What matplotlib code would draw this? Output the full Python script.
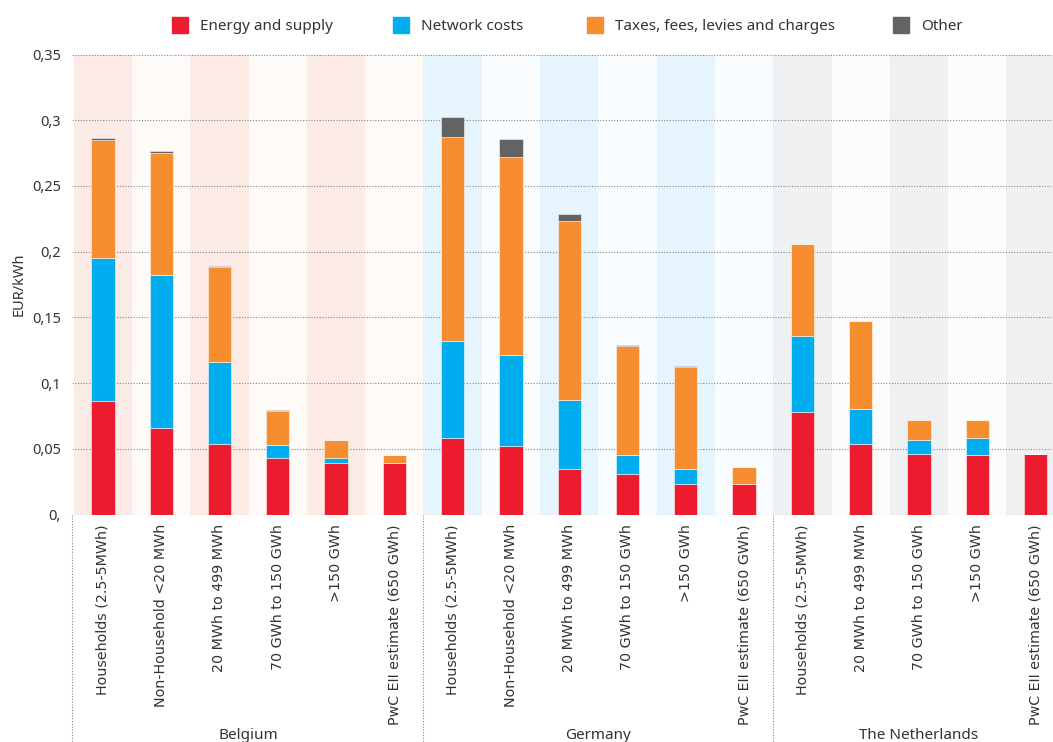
import matplotlib
matplotlib.use("Agg")
import matplotlib.pyplot as plt
from matplotlib.patches import Rectangle
from matplotlib.lines import Line2D
import numpy as np

# ---------------- data ----------------
countries = ["Belgium", "Germany", "The Netherlands"]
categories = [
    "Households (2.5-5MWh)", "Non-Household <20 MWh", "20 MWh to 499 MWh",
    "70 GWh to 150 GWh", ">150 GWh", "PwC EII estimate (650 GWh)",
    "Households (2.5-5MWh)", "Non-Household <20 MWh", "20 MWh to 499 MWh",
    "70 GWh to 150 GWh", ">150 GWh", "PwC EII estimate (650 GWh)",
    "Households (2.5-5MWh)", "20 MWh to 499 MWh",
    "70 GWh to 150 GWh", ">150 GWh", "PwC EII estimate (650 GWh)",
]
group_sizes = [6, 6, 5]

series_names = ["Energy and supply", "Network costs", "Taxes, fees, levies and charges", "Other"]
energy = [0.086, 0.066, 0.054, 0.043, 0.039, 0.039,
          0.058, 0.052, 0.035, 0.031, 0.023, 0.023,
          0.078, 0.054, 0.046, 0.045, 0.046]
network = [0.109, 0.116, 0.062, 0.010, 0.004, 0.0,
           0.074, 0.069, 0.052, 0.014, 0.012, 0.0,
           0.058, 0.026, 0.011, 0.013, 0.0]
taxes = [0.090, 0.093, 0.072, 0.026, 0.014, 0.006,
         0.155, 0.151, 0.136, 0.083, 0.077, 0.013,
         0.070, 0.067, 0.015, 0.014, 0.0]
other = [0.0015, 0.0016, 0.0014, 0.0007, 0.0, 0.0,
         0.0155, 0.014, 0.006, 0.0011, 0.0013, 0.0,
         0.0, 0.0, 0.0, 0.0, 0.0]
yticks = [0, 0.05, 0.1, 0.15, 0.2, 0.25, 0.3, 0.35]

# ---------------- style ----------------
colors = ["#EC1C2E", "#00AEEF", "#F68D2E", "#636363"]
band_colors = [("#FCEAE4", "#FDFAF8"), ("#E6F5FD", "#FAFDFF"), ("#EFF0F2", "#FCFCFC")]
txt = "#333333"
base_font = "Noto Sans"

fig = plt.figure(figsize=(10.53, 7.42), dpi=100)
ax = fig.add_axes([72 / 1053, 1 - 514.5 / 742, (1053 - 72) / 1053, (514.5 - 54.5) / 742])

n = len(categories)
x = np.arange(n)
ax.set_xlim(-0.53, 16.3)
ax.set_ylim(0, 0.35)

# background bands
start = 0
for g, size in enumerate(group_sizes):
    for k in range(size):
        c = band_colors[g][k % 2]
        ax.axvspan(start + k - 0.5, start + k + 0.5, color=c, lw=0, zorder=0)
    start += size

# gridlines
for t in yticks:
    ax.axhline(t, color="#888888", lw=0.8, ls=(0, (1, 1.5)), zorder=1)

# stacked bars
series = [energy, network, taxes, other]
bottom = np.zeros(n)
for vals, col in zip(series, colors):
    vals = np.array(vals)
    ax.bar(x, vals, width=0.4, bottom=bottom, color=col,
           edgecolor=(1, 1, 1, 0.6), linewidth=0.6, zorder=3)
    bottom += vals

for s in ax.spines.values():
    s.set_visible(False)

ax.set_yticks(yticks)
ax.set_yticklabels([f"{v:.2f}".rstrip("0").replace(".", ",") for v in yticks],
                   fontsize=10.5, color=txt, fontfamily=base_font)
ax.tick_params(axis="y", length=0, pad=8)
ax.set_xticks(x)
ax.set_xticklabels(categories, rotation=90, fontsize=10.3, color=txt,
                   fontfamily="DejaVu Sans", va="top", ha="center")
ax.tick_params(axis="x", length=0, pad=7)

ax.set_ylabel("EUR/kWh", fontsize=10.5, color=txt, fontfamily=base_font, labelpad=4)

# group separators and country labels
trans = ax.get_xaxis_transform()
start = 0
seps = [-0.53]
for size in group_sizes[:-1]:
    start += size
    seps.append(start - 0.5)
for sx in seps:
    ax.add_line(Line2D([sx, sx], [0, -0.5], transform=trans, clip_on=False,
                       color="#888888", lw=0.8, ls=(0, (1, 1.5))))
start = 0
for name, size in zip(countries, group_sizes):
    cx = start + (size - 1) / 2
    ax.text(cx, -0.48, name, transform=trans, ha="center", va="center",
            fontsize=11, color=txt, fontfamily=base_font)
    start += size

# legend (manual)
leg_x = [172, 393, 587, 893]
for lx, name, col in zip(leg_x, series_names, colors):
    fig.patches.append(Rectangle((lx / 1053, 1 - 33 / 742), 16 / 1053, 16 / 742,
                                 transform=fig.transFigure, color=col))
    fig.text((lx + 28) / 1053, 1 - 26 / 742, name, ha="left", va="center",
             fontsize=11, color=txt, fontfamily=base_font)

fig.savefig("out.png", dpi=100, facecolor="white")
